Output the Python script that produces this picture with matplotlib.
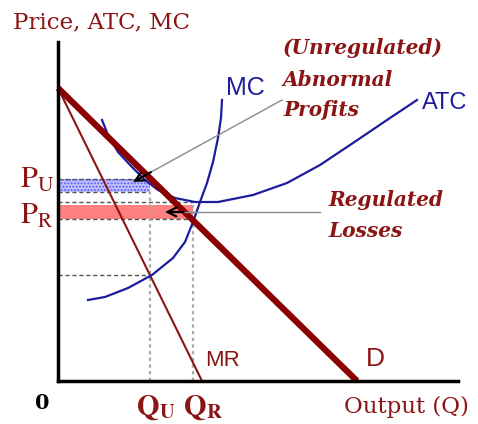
import numpy as np
import matplotlib
matplotlib.use("Agg")
import matplotlib.pyplot as plt

plt.rcParams['mathtext.fontset'] = 'stix'

# demand and marginal revenue (quantity, price)
d_q = [0, 299]
d_p = [293, 0]
mr_q = [0, 144]
mr_p = [293, 0]

# cost curves
mc_q = [30, 47, 70, 94, 115, 127, 135, 142, 149, 155, 160, 163, 164]
mc_p = [81, 84, 93, 106, 123, 139, 159, 179, 198, 219, 243, 263, 281]
atc_q = [44, 50, 60, 74, 87, 100, 117, 137, 160, 195, 229, 262, 295, 329, 359]
atc_p = [261, 246, 229, 214, 201, 191, 183, 179, 179, 186, 198, 216, 238, 261, 281]

q_u, q_r = 92, 135
p_u, p_r = 202, 162
atc_u, atc_r = 189, 176
atc_min = 179
mc_mr = 106

red = '#8b1414'
blue = '#1c1c9c'

fig = plt.figure(figsize=(4.78, 4.24), dpi=100)
ax = fig.add_axes([0, 0, 1, 1])
ax.set_xlim(-58, 420)
ax.set_ylim(-43, 381)
ax.axis('off')

# profit / loss areas
ax.fill_between([0, q_u], atc_u, p_u, facecolor='#c4c4ff', edgecolor='#5a5aff',
                hatch='.....', linewidth=0, zorder=1)
ax.fill_between([0, q_r], p_r, atc_r, facecolor='#ff8080', linewidth=0, zorder=1)

# guide lines
dash = dict(color='#555555', lw=1, ls=(0, (3, 2)), zorder=2)
ax.plot([0, q_u], [p_u, p_u], **dash)
ax.plot([0, q_u], [atc_u, atc_u], **dash)
ax.plot([0, q_r], [atc_min, atc_min], **dash)
ax.plot([0, q_r], [p_r, p_r], **dash)
ax.plot([0, q_u], [mc_mr, mc_mr], **dash)
dot = dict(color='#aaaaaa', lw=1.6, ls=(0, (1.5, 1.5)), zorder=2)
ax.plot([q_u, q_u], [0, atc_u], **dot)
ax.plot([q_r, q_r], [0, atc_r], **dot)

# curves
ax.plot(mr_q, mr_p, color=red, lw=1.5, zorder=3)
ax.plot(mc_q, mc_p, color=blue, lw=1.6, zorder=3, solid_joinstyle='round')
ax.plot(atc_q, atc_p, color=blue, lw=1.6, zorder=3, solid_joinstyle='round')
ax.plot(d_q, d_p, color='#8b0000', lw=4.5, zorder=4, solid_capstyle='butt')

# axes
ax.plot([0, 0], [0, 339], color='black', lw=2.5, zorder=5)
ax.plot([0, 400], [0, 0], color='black', lw=2.5, zorder=5)

# pointer lines (gray) with black open heads
for (x0, y0), (x1, y1) in [((224, 281), (75, 199)), ((262, 169), (107, 169))]:
    ax.plot([x0, x1], [y0, y1], color='#8a8a8a', lw=1, zorder=6)
    ax.annotate('', xy=(x1, y1), xytext=(x1 + (x0 - x1) * 0.12, y1 + (y0 - y1) * 0.12),
                zorder=7,
                arrowprops=dict(arrowstyle='->', color='black', lw=1.6,
                                mutation_scale=16, shrinkA=0, shrinkB=0))

# labels
serif = 'DejaVu Serif'
ax.text(44, 359, 'Price, ATC, MC', color=red, family=serif, fontsize=16.5,
        ha='center', va='center')
ax.text(348, -26, 'Output (Q)', color=red, family=serif, fontsize=16.5,
        ha='center', va='center')
ax.text(-16, -22, '0', color='black', family=serif, fontsize=15,
        fontweight='bold', ha='center', va='center')
ax.text(98, -27, r'$\mathbf{Q}_{\mathbf{U}}$', color=red, fontsize=21,
        ha='center', va='center')
ax.text(145, -27, r'$\mathbf{Q}_{\mathbf{R}}$', color=red, fontsize=21,
        ha='center', va='center')
ax.text(-21, 201, r'$\mathrm{P}_{\mathrm{U}}$', color=red, fontsize=22,
        ha='center', va='center')
ax.text(-21, 166, r'$\mathrm{P}_{\mathrm{R}}$', color=red, fontsize=22,
        ha='center', va='center')

sans = 'Liberation Sans'
ax.text(187, 293, 'MC', color=blue, family=sans, fontsize=18, ha='center', va='center')
ax.text(387, 278, 'ATC', color=blue, family=sans, fontsize=17, ha='center', va='center')
ax.text(165, 21, 'MR', color=red, family=sans, fontsize=16, ha='center', va='center')
ax.text(317, 22, 'D', color=red, family=sans, fontsize=19, ha='center', va='center')

note = dict(color=red, family=serif, fontsize=14.5, fontweight='bold',
            style='italic', ha='left', va='center')
ax.text(225, 333, '(Unregulated)', **note)
ax.text(225, 301, 'Abnormal', **note)
ax.text(225, 271, 'Profits', **note)
ax.text(270, 181, 'Regulated', **note)
ax.text(270, 150, 'Losses', **note)

fig.savefig('out.png', dpi=100)
